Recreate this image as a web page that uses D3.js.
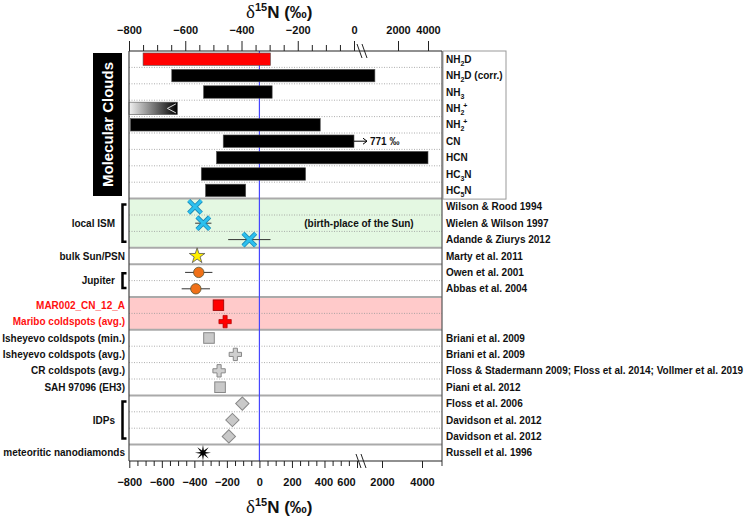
<!DOCTYPE html>
<html><head><meta charset="utf-8">
<script src="https://cdn.jsdelivr.net/npm/d3@7"></script>
<style>
body{margin:0;background:#fff;}
text{font-family:"Liberation Sans",Arial,sans-serif;font-weight:bold;fill:#111;}
</style>
</head><body>
<svg id="c" width="749" height="517"></svg>
<script>
// ---------------- DATA ----------------
const cloudSpecies = ["NH2D", "NH2D (corr.)", "NH3", "NH2+", "NH2+", "CN", "HCN", "HC3N", "HC5N"];
const cloudLow  = [-750, -648, -535, -800, -795, -465, -489, -543, -528];
const cloudHigh = [-297,  950, -291, -628, -120,    0, 4000, -172, -385];
const cloudKind = ["highlight", "range", "range", "upperLimit", "range", "beyond", "range", "range", "range"];
const cnBeyondValue = "771 ‰";

const topMajorTicks = [-800, -600, -400, -200, 0, 2000, 4000];
const bottomMajorTicks = [-800, -600, -400, -200, 0, 200, 400, 600, 2000, 4000];

const groupNames = ["local ISM", "bulk Sun/PSN", "Jupiter", "MAR002_CN_12_A", "Maribo coldspots (avg.)",
  "Isheyevo coldspots (min.)", "Isheyevo coldspots (avg.)", "CR coldspots (avg.)", "SAH 97096 (EH3)",
  "IDPs", "meteoritic nanodiamonds"];
const groupSizes = [3, 1, 2, 1, 1, 1, 1, 1, 1, 3, 1];
const sectionSizes = [3, 1, 2, 2, 4, 3, 1];
const sectionShade = ["green", "none", "none", "pink", "none", "none", "none"];

const sampleValues = [-396, -345, -62, -383, -373, -391, -252, -211, -310, -148, -248, -242, -105, -166, -188, -347];
const sampleErrors = [0, 50, 130, 0, 84, 87, 0, 0, 0, 0, 0, 0, 0, 0, 0, 0];
const sampleMarkers = ["x", "x", "x", "star", "circle", "circle", "squareRed", "crossRed", "square", "cross", "cross", "square", "diamond", "diamond", "diamond", "asterisk"];
const references = ["Wilson & Rood 1994", "Wielen & Wilson 1997", "Adande & Ziurys 2012", "Marty et al. 2011",
  "Owen et al. 2001", "Abbas et al. 2004", "", "", "Briani et al. 2009", "Briani et al. 2009",
  "Floss & Stadermann 2009; Floss et al. 2014; Vollmer et al. 2019", "Piani et al. 2012",
  "Floss et al. 2006", "Davidson et al. 2012", "Davidson et al. 2012", "Russell et al. 1996"];
const sunNote = "(birth-place of the Sun)";

// ---------------- LAYOUT ----------------
const X0 = 129, X1 = 442, Y0 = 51, Y1 = 461;
const nRows = cloudSpecies.length + sampleValues.length;
const svg = d3.select("#c");
const y = d3.scaleBand().domain(d3.range(nRows)).range([Y0, Y1]);
const bw = y.bandwidth();
const xTop = d3.scaleLinear().domain([-800, 0, 2000, 4000, 5000]).range([X0, 354, 398, 428, 443]);
const xBot = d3.scaleLinear().domain([-800, 600, 2000, 4000, 5000]).range([129.3, 357, 382, 422, X1]);
const nC = cloudSpecies.length;
const cy = i => y(i) + bw / 2;

// backgrounds
let r = nC;
sectionSizes.forEach((s, k) => {
  if (sectionShade[k] !== "none") {
    svg.append("rect").attr("x", X0).attr("y", y(r)).attr("width", X1 - X0).attr("height", bw * s)
      .attr("fill", sectionShade[k] === "green" ? "#e4f8e2" : "#ffcaca");
  }
  r += s;
});

// separators
const solidAfter = new Set([nC - 1]);
r = nC;
sectionSizes.forEach(s => { r += s; solidAfter.add(r - 1); });
for (let i = 0; i < nRows - 1; i++) {
  const yy = y(i) + bw;
  if (solidAfter.has(i)) {
    svg.append("line").attr("x1", X0).attr("x2", X1).attr("y1", yy).attr("y2", yy)
      .attr("stroke", "#aaa").attr("stroke-width", 2);
  } else {
    svg.append("line").attr("x1", X0).attr("x2", X1).attr("y1", yy).attr("y2", yy)
      .attr("stroke", "#999").attr("stroke-width", 0.8).attr("stroke-dasharray", "1,1.5");
  }
}

// blue zero line (bottom scale)
svg.append("line").attr("x1", xBot(0)).attr("x2", xBot(0)).attr("y1", Y0).attr("y2", Y1)
  .attr("stroke", "#4646ff").attr("stroke-width", 1.2);

// gradient
const defs = svg.append("defs");
const grad = defs.append("linearGradient").attr("id", "g1");
grad.append("stop").attr("offset", "0%").attr("stop-color", "#f2f2f2");
grad.append("stop").attr("offset", "100%").attr("stop-color", "#000");

// cloud bars
const barH = bw * 0.76;
cloudSpecies.forEach((sp, i) => {
  const x1 = xTop(cloudLow[i]), x2 = xTop(cloudHigh[i]);
  const kind = cloudKind[i];
  const fill = kind === "highlight" ? "#ff0000" : kind === "upperLimit" ? "url(#g1)" : "#000";
  svg.append("rect").attr("x", x1).attr("y", cy(i) - barH / 2).attr("width", x2 - x1).attr("height", barH)
    .attr("fill", fill).attr("stroke", "#555").attr("stroke-width", 0.6);
  if (kind === "upperLimit") {
    svg.append("path").attr("d", `M${x2 - 1.5},${cy(i) - 4.5} L${x2 - 10},${cy(i)} L${x2 - 1.5},${cy(i) + 4.5}`)
      .attr("fill", "none").attr("stroke", "#ddd").attr("stroke-width", 1);
  }
  if (kind === "beyond") {
    const ax = x2 + 13;
    svg.append("line").attr("x1", x2).attr("x2", ax).attr("y1", cy(i)).attr("y2", cy(i))
      .attr("stroke", "#000").attr("stroke-width", 1);
    svg.append("path").attr("d", `M${ax - 4},${cy(i) - 3} L${ax},${cy(i)} L${ax - 4},${cy(i) + 3}`)
      .attr("fill", "none").attr("stroke", "#000").attr("stroke-width", 1);
    svg.append("text").attr("x", ax + 3).attr("y", cy(i)).attr("dy", "0.35em")
      .style("font-size", "10px").text(cnBeyondValue);
  }
});

// rich text helper: digits -> subscript, "+" -> superscript
function rich(sel, s, fs) {
  let shift = 0; // current baseline offset
  let buf = "", bufShift = 0;
  const segs = [];
  for (const ch of s) {
    const sh = /[0-9]/.test(ch) ? 3 : ch === "+" ? -4 : 0;
    if (buf && sh !== bufShift) { segs.push([buf, bufShift]); buf = ""; }
    bufShift = sh; buf += ch;
  }
  if (buf) segs.push([buf, bufShift]);
  segs.forEach(([txt, sh]) => {
    const t = sel.append("tspan").attr("dy", sh - shift).text(txt);
    if (sh !== 0) t.style("font-size", (fs * 0.7) + "px");
    if (sh < 0) t.attr("dx", -1);
    shift = sh;
  });
}

// right labels for clouds
svg.append("rect").attr("x", 443).attr("y", Y0).attr("width", 63).attr("height", bw * nC + 0.5)
  .attr("fill", "none").attr("stroke", "#999").attr("stroke-width", 1);
cloudSpecies.forEach((sp, i) => {
  const t = svg.append("text").attr("x", 446).attr("y", cy(i) + 3.5).style("font-size", "10px");
  rich(t, sp, 10);
});

// references
references.forEach((ref, i) => {
  if (!ref) return;
  svg.append("text").attr("x", 446).attr("y", cy(nC + i)).attr("dy", "0.35em")
    .style("font-size", "10px").text(ref);
});
svg.append("text").attr("x", 359).attr("y", cy(nC + 1)).attr("dy", "0.35em").attr("text-anchor", "middle")
  .style("font-size", "10px").text(sunNote);

// Molecular Clouds box
svg.append("rect").attr("x", 93).attr("y", 53).attr("width", 29).attr("height", 143).attr("fill", "#000");
svg.append("text").attr("transform", `translate(108,124.5) rotate(-90)`).attr("text-anchor", "middle")
  .attr("dy", "0.36em").style("font-size", "15px").style("fill", "#fff").text("Molecular Clouds");

// group labels
let pinkRows = new Set();
r = 0;
sectionSizes.forEach((s, k) => { if (sectionShade[k] === "pink") for (let j = 0; j < s; j++) pinkRows.add(r + j); r += s; });
r = 0;
groupNames.forEach((g, k) => {
  const s = groupSizes[k];
  const top = y(nC + r), bot = y(nC + r + s - 1) + bw;
  const mid = (top + bot) / 2;
  const bracket = s > 1;
  const red = pinkRows.has(r);
  svg.append("text").attr("x", bracket ? 115 : 125).attr("y", mid).attr("dy", "0.35em")
    .attr("text-anchor", "end").style("font-size", "10px").style("fill", red ? "#ff1010" : "#111").text(g);
  if (bracket) {
    const inset = s === 2 ? 9 : 6;
    svg.append("path").attr("d", `M126.5,${top + inset} H122.5 V${bot - inset} H126.5`)
      .attr("fill", "none").attr("stroke", "#000").attr("stroke-width", 2.5);
  }
  r += s;
});

// sample markers
sampleValues.forEach((v, i) => {
  const px = xBot(v), py = cy(nC + i);
  const e = sampleErrors[i];
  if (e > 0) {
    svg.append("line").attr("x1", xBot(v - e)).attr("x2", xBot(v + e)).attr("y1", py).attr("y2", py)
      .attr("stroke", "#333").attr("stroke-width", 1);
  }
  const m = sampleMarkers[i];
  const g = svg.append("g").attr("transform", `translate(${px},${py})`);
  if (m === "x") {
    const d = 6.3;
    const p = `M${-d},${-d}L${d},${d}M${-d},${d}L${d},${-d}`;
    g.append("path").attr("d", p).attr("stroke", "#1b86b3").attr("stroke-width", 4.4).attr("fill", "none");
    g.append("path").attr("d", p).attr("stroke", "#2cc0ee").attr("stroke-width", 2.8).attr("fill", "none");
  } else if (m === "star") {
    g.append("path").attr("d", d3.symbol(d3.symbolStar, 75)()).attr("fill", "#ffee00")
      .attr("stroke", "#555").attr("stroke-width", 0.8);
  } else if (m === "circle") {
    g.append("circle").attr("r", 5.2).attr("fill", "#f07018").attr("stroke", "#553").attr("stroke-width", 0.8);
  } else if (m === "squareRed") {
    g.append("rect").attr("x", -5.3).attr("y", -5.3).attr("width", 10.6).attr("height", 10.6)
      .attr("fill", "#ff0000").attr("stroke", "#900").attr("stroke-width", 0.8);
  } else if (m === "crossRed") {
    g.append("path").attr("d", d3.symbol(d3.symbolCross, 85)()).attr("fill", "#ff0000")
      .attr("stroke", "#a00").attr("stroke-width", 0.7);
  } else if (m === "square") {
    g.append("rect").attr("x", -5.3).attr("y", -5.3).attr("width", 10.6).attr("height", 10.6)
      .attr("fill", "#c9c9c9").attr("stroke", "#888").attr("stroke-width", 1);
  } else if (m === "cross") {
    g.append("path").attr("d", d3.symbol(d3.symbolCross, 85)()).attr("fill", "#cfcfcf")
      .attr("stroke", "#888").attr("stroke-width", 1);
  } else if (m === "diamond") {
    g.append("rect").attr("x", -4.7).attr("y", -4.7).attr("width", 9.4).attr("height", 9.4)
      .attr("transform", "rotate(45)").attr("fill", "#c9c9c9").attr("stroke", "#888").attr("stroke-width", 1);
  } else if (m === "asterisk") {
    const pts = [];
    for (let k = 0; k < 16; k++) {
      const a = k * Math.PI / 8;
      const rr = k % 2 === 0 ? 8 : 2.4;
      pts.push([rr * Math.cos(a), rr * Math.sin(a)]);
    }
    g.append("path").attr("d", "M" + pts.map(p => p.join(",")).join("L") + "Z").attr("fill", "#000");
  }
});

// frame
svg.append("line").attr("x1", X0).attr("x2", X0).attr("y1", Y0).attr("y2", Y1).attr("stroke", "#444").attr("stroke-width", 1.2);
svg.append("line").attr("x1", X1).attr("x2", X1).attr("y1", Y0).attr("y2", Y1 + 5).attr("stroke", "#555").attr("stroke-width", 1.2);

// axes
const topMinor = d3.range(-800, 1, 50).filter(v => !topMajorTicks.includes(v));
const botMinor = d3.range(-800, 601, 50).filter(v => !bottomMajorTicks.includes(v));

const gTopMinor = svg.append("g").attr("transform", `translate(0,${Y0})`)
  .call(d3.axisTop(xTop).tickValues(topMinor).tickSize(6).tickFormat(""));
const gTop = svg.append("g").attr("transform", `translate(0,${Y0})`)
  .call(d3.axisTop(xTop).tickValues(topMajorTicks).tickSize(10).tickPadding(7).tickSizeOuter(0).tickFormat(d3.format("d")));
const gBotMinor = svg.append("g").attr("transform", `translate(0,${Y1})`)
  .call(d3.axisBottom(xBot).tickValues(botMinor).tickSize(5).tickFormat(""));
const gBot = svg.append("g").attr("transform", `translate(0,${Y1})`)
  .call(d3.axisBottom(xBot).tickValues(bottomMajorTicks).tickSize(7).tickPadding(10).tickSizeOuter(0).tickFormat(d3.format("d")));
[gTopMinor, gTop, gBotMinor, gBot].forEach(g => {
  g.select(".domain").attr("stroke", "#222").attr("stroke-width", 1.2);
  g.selectAll(".tick line").attr("stroke", "#222").attr("stroke-width", 1);
  g.selectAll("text").style("font-size", "11px").style("font-family", "'Liberation Sans',Arial,sans-serif")
    .style("font-weight", "bold").attr("fill", "#111");
});
[gTopMinor, gBotMinor].forEach(g => g.select(".domain").remove());
gTop.select(".domain").attr("d", `M${X0},0H${X1}`);
gBot.select(".domain").attr("d", `M${X0},0H${X1}`);
gBot.selectAll(".tick").filter(d => d === 400).select("text").attr("dx", -1);
gBot.selectAll(".tick").filter(d => d === 600).select("text").attr("dx", -11);

// break marks
[[Y0, 362], [Y1, 361]].forEach(([yy, xx]) => {
  [-2.5, 2.5].forEach(o => {
    svg.append("line").attr("x1", xx + o - 2.5).attr("x2", xx + o + 2.5).attr("y1", yy - 7).attr("y2", yy + 7)
      .attr("stroke", "#222").attr("stroke-width", 1);
  });
});

// titles
function title(yy) {
  const t = svg.append("text").attr("x", 246).attr("y", yy);
  t.append("tspan").style("font-family", "'Liberation Serif','Times New Roman',serif").style("font-weight", "normal")
    .style("font-size", "19px").text("δ");
  t.append("tspan").attr("dy", -7).style("font-size", "11px").text("15");
  t.append("tspan").attr("dy", 7).style("font-size", "17px").text("N (‰)");
}
title(18);
title(513);
</script>
</body></html>
